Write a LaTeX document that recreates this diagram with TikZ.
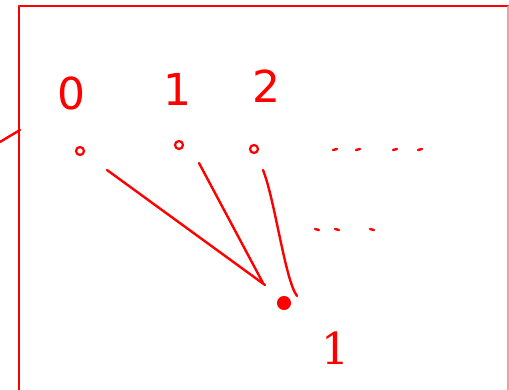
\documentclass[tikz,border=0pt]{standalone}
\usepackage{fontspec}
\setsansfont{DejaVu Sans}
\setmainfont{DejaVu Serif}
\begin{document}
\begin{tikzpicture}[x=1pt,y=-1pt,
  ink/.style={draw=red,line width=2.4pt,line cap=round,line join=round},
  lbl/.style={text=red,font=\sffamily\fontsize{44}{44}\selectfont\mdseries,inner sep=0pt},
  ringdot/.style={circle,draw=red,line width=2.2pt,inner sep=0pt,minimum size=8pt},
  bigdot/.style={circle,draw=red,fill=red,line width=2pt,inner sep=0pt,minimum size=12pt}]
\useasboundingbox (0,0) rectangle (509,390);
% frame
\draw[ink] (19,390) -- (19,6) -- (508,6);
\draw[draw=red!40,line width=1.6pt] (508,6) -- (508,390);
\coordinate (tickA) at (0,142);
\coordinate (tickB) at (20,130);
\draw[ink] (tickA) -- (tickB);
% labels
\node[lbl] (l0) at (71,93) {0};
\node[lbl] (l1) at (177,89) {1};
\node[lbl] (l2) at (266,86) {2};
\node[lbl,font=\rmfamily\fontsize{44}{44}\selectfont] (lb) at (335,348) {1};
% vertices
\node[ringdot] (v0) at (80,151) {};
\node[ringdot] (v1) at (179,145) {};
\node[ringdot] (v2) at (254,149) {};
\node[bigdot] (w) at (284,303) {};
% edges
\draw[ink] ([shift={(27,19)}]v0.center) -- ([shift={(-19,-18)}]w.center);
\draw[ink] ([shift={(20,18)}]v1.center) -- ([shift={(-21,-20)}]w.center);
\draw[ink] ([shift={(9,21)}]v2.center) .. controls (275,200) and (285,280) .. ([shift={(13,-7)}]w.center);
% dashes
\foreach \x in {335,358,395,420} \draw[ink] (\x-2,150) -- (\x+2,149);
\foreach \x in {317,337,372} \draw[ink] (\x-2,229) -- (\x+2,230);
\end{tikzpicture}
\end{document}
